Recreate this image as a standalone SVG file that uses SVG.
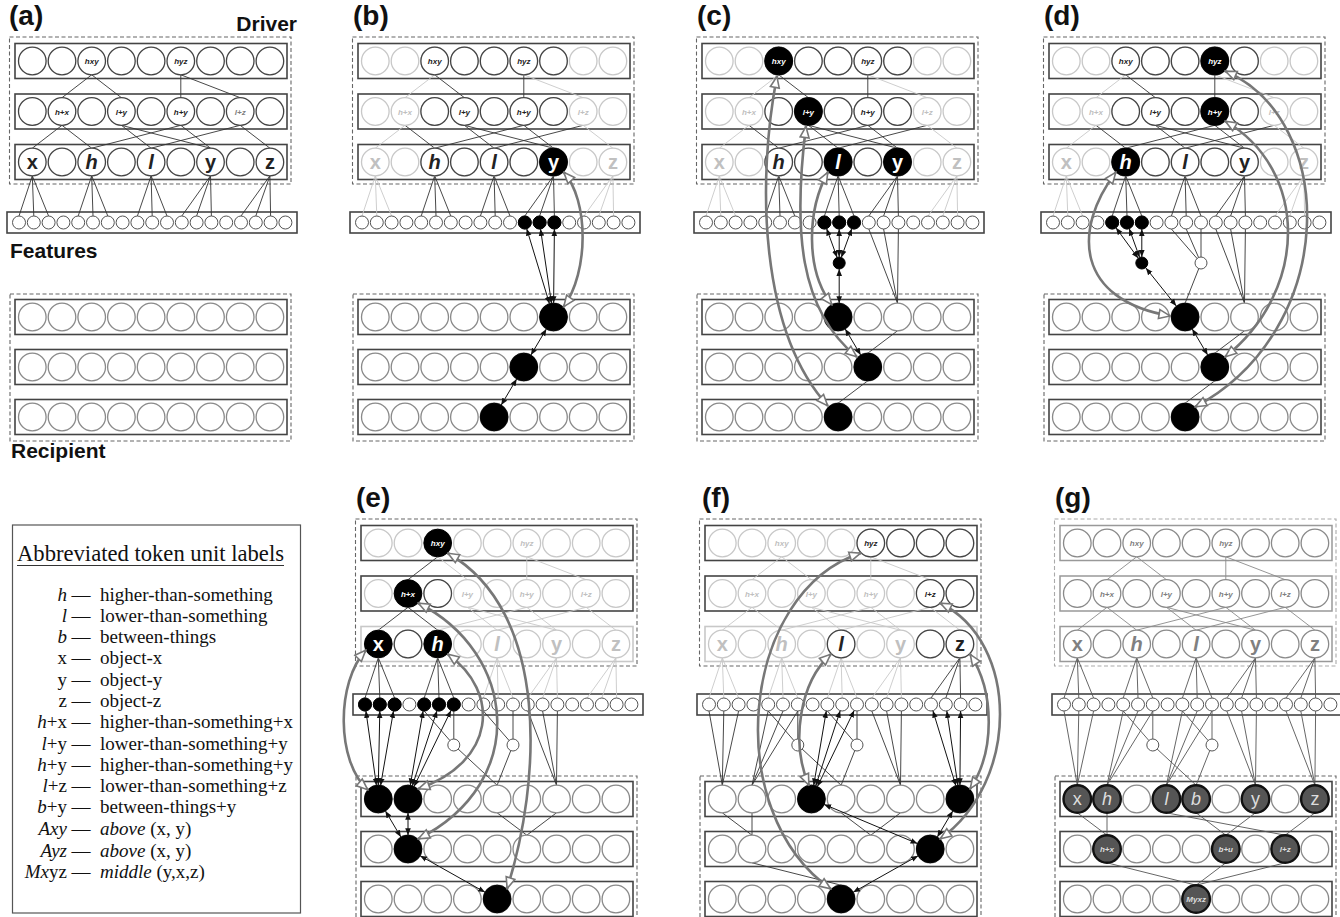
<svg xmlns="http://www.w3.org/2000/svg" width="1340" height="917" viewBox="0 0 1340 917">
<style>
svg{font-family:"Liberation Sans",Arial,sans-serif}
.pl{font-size:28px;font-weight:bold;fill:#111}
.hd{font-size:21px;font-weight:bold;fill:#111}
.ds{fill:none;stroke:#666;stroke-width:1.1;stroke-dasharray:4 2.5}
.dsl{fill:none;stroke:#aaa;stroke-width:1.1;stroke-dasharray:4 2.5}
.rw{fill:none;stroke:#444;stroke-width:1.6}
.rwl{fill:none;stroke:#c8c8c8;stroke-width:1.6}
.rwg{fill:none;stroke:#999;stroke-width:1.5}
.cd{fill:#fff;stroke:#444;stroke-width:1.3}
.cl{fill:#fff;stroke:#c8c8c8;stroke-width:1.3}
.cr{fill:#fff;stroke:#8a8a8a;stroke-width:1.3}
.cb{fill:#000;stroke:#000;stroke-width:1}
.cf{fill:#fff;stroke:#555;stroke-width:1}
.cx{fill:#555;stroke:#111;stroke-width:2.4}
.ld{fill:none;stroke:#333;stroke-width:0.9}
.ll{fill:none;stroke:#c8c8c8;stroke-width:0.9}
.lg{fill:none;stroke:#8a8a8a;stroke-width:0.9}
.lm{fill:none;stroke:#555;stroke-width:0.9}
.ab{fill:none;stroke:#111;stroke-width:1;marker-start:url(#ah);marker-end:url(#ah)}
.ag{fill:none;stroke:#777;stroke-width:2.6;marker-start:url(#gh);marker-end:url(#gh)}
.s{font-size:8px;font-weight:bold;font-style:italic;text-anchor:middle}
.b{font-size:20px;font-weight:bold;text-anchor:middle}
.r{font-size:18px;text-anchor:middle}
.i{font-style:italic}
.k{fill:#222}.g{fill:#c0c0c0}.w{fill:#fff}.m{fill:#808080}.e{fill:#ddd}
.lt{font-family:"Liberation Serif","Times New Roman",serif;font-size:19px;fill:#111}
</style>
<defs>
<marker id="ah" viewBox="0 0 10 10" refX="10" refY="5" markerWidth="7" markerHeight="7" markerUnits="userSpaceOnUse" orient="auto-start-reverse"><path d="M0 1L10 5L0 9z" fill="#111"/></marker>
<marker id="gh" viewBox="0 0 14 12" refX="13" refY="6" markerWidth="14" markerHeight="12" markerUnits="userSpaceOnUse" orient="auto-start-reverse"><path d="M1.5 1.5L12.5 6L1.5 10.5z" fill="#fff" stroke="#777" stroke-width="1.6"/></marker>
<circle id="c" r="13.8"/>
<circle id="fc" r="6.5"/>
<circle id="sc" r="6"/>
<g id="r9"><circle cx="32.3" r="13.8"/><circle cx="62" r="13.8"/><circle cx="91.7" r="13.8"/><circle cx="121.4" r="13.8"/><circle cx="151.1" r="13.8"/><circle cx="180.8" r="13.8"/><circle cx="210.5" r="13.8"/><circle cx="240.2" r="13.8"/><circle cx="269.9" r="13.8"/></g>
<g id="mid5"><circle cx="91.7" r="13.8"/><circle cx="121.4" r="13.8"/><circle cx="151.1" r="13.8"/><circle cx="180.8" r="13.8"/><circle cx="210.5" r="13.8"/></g>
<g id="f19"><circle cx="19" r="6.5"/><circle cx="33.8" r="6.5"/><circle cx="48.6" r="6.5"/><circle cx="63.4" r="6.5"/><circle cx="78.2" r="6.5"/><circle cx="93" r="6.5"/><circle cx="107.8" r="6.5"/><circle cx="122.6" r="6.5"/><circle cx="137.4" r="6.5"/><circle cx="152.2" r="6.5"/><circle cx="167" r="6.5"/><circle cx="181.8" r="6.5"/><circle cx="196.6" r="6.5"/><circle cx="211.4" r="6.5"/><circle cx="226.2" r="6.5"/><circle cx="241" r="6.5"/><circle cx="255.8" r="6.5"/><circle cx="270.6" r="6.5"/><circle cx="285.4" r="6.5"/></g>
<g id="frTop" fill="none">
<rect x="9.5" y="37" width="281.5" height="147" stroke="#666" stroke-width="1.1" stroke-dasharray="4 2.5"/>
<rect x="15" y="43.5" width="272" height="35" stroke="#444" stroke-width="1.6"/>
<rect x="15" y="94" width="272" height="35" stroke="#444" stroke-width="1.6"/>
</g>
<g id="frBot" fill="none">
<rect x="7" y="212" width="290" height="21" stroke="#444" stroke-width="1.6"/>
<rect x="10" y="294" width="281" height="147" stroke="#666" stroke-width="1.1" stroke-dasharray="4 2.5"/>
<rect x="15" y="299.5" width="272" height="35" stroke="#444" stroke-width="1.6"/>
<rect x="15" y="349.5" width="272" height="35" stroke="#444" stroke-width="1.6"/>
<rect x="15" y="399.5" width="272" height="35" stroke="#444" stroke-width="1.6"/>
</g>
<!-- driver links -->
<path id="L1" d="M91.7 74.8L62 97.7"/>
<path id="L2" d="M91.7 74.8L121.4 97.7"/>
<path id="L3" d="M180.8 74.8V97.7"/>
<path id="L4" d="M180.8 74.8L240.2 97.7"/>
<path id="L5" d="M62 125.3L32.3 148.2"/>
<path id="L6" d="M62 125.3L91.7 148.2"/>
<path id="L7" d="M121.4 125.3L151.1 148.2"/>
<path id="L8" d="M121.4 125.3L210.5 148.2"/>
<path id="L9" d="M180.8 125.3L91.7 148.2"/>
<path id="L10" d="M180.8 125.3L210.5 148.2"/>
<path id="L11" d="M240.2 125.3L151.1 148.2"/>
<path id="L12" d="M240.2 125.3L269.9 148.2"/>
<!-- driver to feature links -->
<path id="Fx" d="M32.3 175.8L19 216M32.3 175.8L33.8 216M32.3 175.8L48.6 216"/>
<path id="Fh" d="M91.7 175.8L78.2 216M91.7 175.8L93 216M91.7 175.8L107.8 216"/>
<path id="Fl" d="M151.1 175.8L137.4 216M151.1 175.8L152.2 216M151.1 175.8L167 216"/>
<path id="Fy" d="M210.5 175.8L181.8 216M210.5 175.8L196.6 216M210.5 175.8L211.4 216"/>
<path id="Fz" d="M269.9 175.8L241 216M269.9 175.8L255.8 216M269.9 175.8L270.6 216"/>
<!-- feature to recipient links -->
<path id="Gx" d="M19 229L32.3 303.2M33.8 229L32.3 303.2M48.6 229L32.3 303.2"/>
<path id="Gh" d="M78.2 229L62 303.2M93 229L62 303.2M107.8 229L62 303.2"/>
<path id="Gl" d="M137.4 229L121.4 303.2M152.2 229L121.4 303.2M167 229L121.4 303.2"/>
<path id="Gy" d="M181.8 229L210.5 303.2M196.6 229L210.5 303.2M211.4 229L210.5 303.2"/>
<path id="Gz" d="M241 229L269.9 303.2M255.8 229L269.9 303.2M270.6 229L269.9 303.2"/>
<path id="S1a" d="M78.2 229L107.8 263M107.8 229V263"/>
<path id="S2a" d="M137.4 229L167 263M167 229V263"/>
<path id="S2b" d="M152.2 229L167 263"/>
<path id="Sr" d="M107.8 263L151.1 303.2M167 263L151.1 303.2"/>
<path id="S2r" d="M167 263L151.1 303.2"/>
<!-- recipient links -->
<path id="P01" d="M32.3 330.8L62 353.2"/>
<path id="P11" d="M62 330.8V353.2"/>
<path id="P45" d="M151.1 330.8L180.8 353.2"/>
<path id="P65" d="M210.5 330.8L180.8 353.2"/>
<path id="P37" d="M121.4 330.8L240.2 353.2"/>
<path id="P87" d="M269.9 330.8L240.2 353.2"/>
<path id="Q14" d="M62 380.8L151.1 403.2"/>
<path id="Q54" d="M180.8 380.8L151.1 403.2"/>
<path id="Q74" d="M240.2 380.8L151.1 403.2"/>
</defs>
<rect width="1340" height="917" fill="#fff"/>

<!-- (a) -->
<g id="panel-a">
<text class="pl" x="9" y="25">(a)</text>
<text class="hd" x="297" y="31" text-anchor="end">Driver</text>
<text class="hd" x="10" y="258">Features</text>
<text class="hd" x="11" y="458">Recipient</text>
<use href="#frTop"/><rect class="rw" x="15" y="144.5" width="272" height="35"/><use href="#frBot"/>
<g id="a-links" class="ld"><use href="#L1"/><use href="#L2"/><use href="#L3"/><use href="#L4"/><use href="#L5"/><use href="#L6"/><use href="#L7"/><use href="#L8"/><use href="#L9"/><use href="#L10"/><use href="#L11"/><use href="#L12"/><use href="#Fx"/><use href="#Fh"/><use href="#Fl"/><use href="#Fy"/><use href="#Fz"/></g>
<g id="a-nodes">
<use href="#r9" y="61" class="cd"/><use href="#r9" y="111.5" class="cd"/><use href="#r9" y="162" class="cd"/>
<use href="#f19" y="222.5" class="cf"/>
<use href="#r9" y="317" class="cr"/><use href="#r9" y="367" class="cr"/><use href="#r9" y="417" class="cr"/>
<text class="s k" x="91.7" y="64">hxy</text><text class="s k" x="180.8" y="64">hyz</text>
<text class="s k" x="62" y="114.5">h+x</text><text class="s k" x="121.4" y="114.5">l+y</text><text class="s k" x="180.8" y="114.5">h+y</text><text class="s m" x="240.2" y="114.5">l+z</text>
<text class="b k" x="32.3" y="169">x</text><text class="b i k" x="91.7" y="169">h</text><text class="b i k" x="151.1" y="169">l</text><text class="b k" x="210.5" y="169">y</text><text class="b k" x="269.9" y="169">z</text>
</g>
</g>

<!-- (b) -->
<g id="panel-b" transform="translate(343,0)">
<text class="pl" x="10" y="25">(b)</text>
<use href="#frTop"/><rect class="rw" x="15" y="144.5" width="272" height="35"/><use href="#frBot"/>
<g id="b-links">
<g class="ll"><use href="#L1"/><use href="#L4"/><use href="#L5"/><use href="#L12"/><use href="#Fx"/><use href="#Fz"/></g>
<g class="ld"><use href="#L2"/><use href="#L3"/><use href="#L6"/><use href="#L7"/><use href="#L8"/><use href="#L9"/><use href="#L10"/><use href="#L11"/><use href="#Fh"/><use href="#Fl"/><use href="#Fy"/></g>
</g>
<g id="b-nodes">
<use href="#r9" y="61" class="cl"/><use href="#mid5" y="61" class="cd"/>
<use href="#r9" y="111.5" class="cl"/><use href="#mid5" y="111.5" class="cd"/>
<use href="#r9" y="162" class="cl"/><use href="#mid5" y="162" class="cd"/><use href="#c" x="210.5" y="162" class="cb"/>
<use href="#f19" y="222.5" class="cf"/><use href="#fc" x="181.8" y="222.5" class="cb"/><use href="#fc" x="196.6" y="222.5" class="cb"/><use href="#fc" x="211.4" y="222.5" class="cb"/>
<use href="#r9" y="317" class="cr"/><use href="#r9" y="367" class="cr"/><use href="#r9" y="417" class="cr"/>
<use href="#c" x="210.5" y="317" class="cb"/><use href="#c" x="180.8" y="367" class="cb"/><use href="#c" x="151.1" y="417" class="cb"/>
<text class="s k" x="91.7" y="64">hxy</text><text class="s k" x="180.8" y="64">hyz</text>
<text class="s g" x="62" y="114.5">h+x</text><text class="s k" x="121.4" y="114.5">l+y</text><text class="s k" x="180.8" y="114.5">h+y</text><text class="s g" x="240.2" y="114.5">l+z</text>
<text class="b g" x="32.3" y="169">x</text><text class="b i k" x="91.7" y="169">h</text><text class="b i k" x="151.1" y="169">l</text><text class="b w" x="210.5" y="169">y</text><text class="b g" x="269.9" y="169">z</text>
</g>
<g id="b-arrows">
<path class="ab" d="M183.7 228.7L206.5 303.8"/>
<path class="ab" d="M197.5 228.9L208.5 303.4"/>
<path class="ab" d="M211.4 229L210.6 303.2"/>
<path class="ab" d="M203.4 328.9L187.9 355.1"/>
<path class="ab" d="M173.7 378.9L158.2 405.1"/>
<path class="ag" d="M220.5 172C246 200 246 272 220.5 307"/>
</g>
</g>

<!-- (c) -->
<g id="panel-c" transform="translate(687,0)">
<text class="pl" x="10" y="25">(c)</text>
<use href="#frTop"/><rect class="rw" x="15" y="144.5" width="272" height="35"/><use href="#frBot"/>
<g id="c-links">
<g class="ll"><use href="#L1"/><use href="#L4"/><use href="#L5"/><use href="#L12"/><use href="#Fx"/><use href="#Fz"/></g>
<g class="ld"><use href="#L2"/><use href="#L3"/><use href="#L6"/><use href="#L7"/><use href="#L8"/><use href="#L9"/><use href="#L10"/><use href="#L11"/><use href="#Fh"/><use href="#Fl"/><use href="#Fy"/><use href="#Gy"/><use href="#P65"/><use href="#Q54"/></g>
</g>
<g id="c-nodes">
<use href="#r9" y="61" class="cl"/><use href="#mid5" y="61" class="cd"/><use href="#c" x="91.7" y="61" class="cb"/>
<use href="#r9" y="111.5" class="cl"/><use href="#mid5" y="111.5" class="cd"/><use href="#c" x="121.4" y="111.5" class="cb"/>
<use href="#r9" y="162" class="cl"/><use href="#mid5" y="162" class="cd"/><use href="#c" x="151.1" y="162" class="cb"/><use href="#c" x="210.5" y="162" class="cb"/>
<use href="#f19" y="222.5" class="cf"/><use href="#fc" x="137.4" y="222.5" class="cb"/><use href="#fc" x="152.2" y="222.5" class="cb"/><use href="#fc" x="167" y="222.5" class="cb"/>
<use href="#sc" x="152.2" y="263" class="cb"/>
<use href="#r9" y="317" class="cr"/><use href="#r9" y="367" class="cr"/><use href="#r9" y="417" class="cr"/>
<use href="#c" x="151.1" y="317" class="cb"/><use href="#c" x="180.8" y="367" class="cb"/><use href="#c" x="151.1" y="417" class="cb"/>
<text class="s w" x="91.7" y="64">hxy</text><text class="s k" x="180.8" y="64">hyz</text>
<text class="s g" x="62" y="114.5">h+x</text><text class="s w" x="121.4" y="114.5">l+y</text><text class="s k" x="180.8" y="114.5">h+y</text><text class="s g" x="240.2" y="114.5">l+z</text>
<text class="b g" x="32.3" y="169">x</text><text class="b i k" x="91.7" y="169">h</text><text class="b i w" x="151.1" y="169">l</text><text class="b w" x="210.5" y="169">y</text><text class="b g" x="269.9" y="169">z</text>
</g>
<g id="c-arrows">
<path class="ab" d="M139.6 228.6L150.1 257.4"/>
<path class="ab" d="M152.2 229V257"/>
<path class="ab" d="M164.8 228.6L154.3 257.4"/>
<path class="ab" d="M152.2 269V303.2"/>
<path class="ab" d="M158.2 328.9L173.7 355.1"/>
<path class="ag" d="M90 76C70 180 72 330 141 406"/>
<path class="ag" d="M119 126C106 230 112 310 170 357"/>
<path class="ag" d="M141 172C120 210 118 270 145 305"/>
</g>
</g>

<!-- (d) -->
<g id="panel-d" transform="translate(1034,0)">
<text class="pl" x="10" y="25">(d)</text>
<use href="#frTop"/><rect class="rw" x="15" y="144.5" width="272" height="35"/><use href="#frBot"/>
<g id="d-links">
<g class="ll"><use href="#L1"/><use href="#L4"/><use href="#L5"/><use href="#L12"/><use href="#Fx"/><use href="#Fz"/></g>
<g class="ld"><use href="#L2"/><use href="#L3"/><use href="#L6"/><use href="#L7"/><use href="#L8"/><use href="#L9"/><use href="#L10"/><use href="#L11"/><use href="#Fh"/><use href="#Fl"/><use href="#Fy"/><use href="#S2a"/><use href="#S2b"/><use href="#S2r"/><use href="#Gy"/><use href="#P65"/><use href="#Q54"/></g>
</g>
<g id="d-nodes">
<use href="#r9" y="61" class="cl"/><use href="#mid5" y="61" class="cd"/><use href="#c" x="180.8" y="61" class="cb"/>
<use href="#r9" y="111.5" class="cl"/><use href="#mid5" y="111.5" class="cd"/><use href="#c" x="180.8" y="111.5" class="cb"/>
<use href="#r9" y="162" class="cl"/><use href="#mid5" y="162" class="cd"/><use href="#c" x="91.7" y="162" class="cb"/>
<use href="#f19" y="222.5" class="cf"/><use href="#fc" x="78.2" y="222.5" class="cb"/><use href="#fc" x="93" y="222.5" class="cb"/><use href="#fc" x="107.8" y="222.5" class="cb"/>
<use href="#sc" x="107.8" y="263" class="cb"/><use href="#sc" x="167" y="263" class="cf"/>
<use href="#r9" y="317" class="cr"/><use href="#r9" y="367" class="cr"/><use href="#r9" y="417" class="cr"/>
<use href="#c" x="151.1" y="317" class="cb"/><use href="#c" x="180.8" y="367" class="cb"/><use href="#c" x="151.1" y="417" class="cb"/>
<text class="s k" x="91.7" y="64">hxy</text><text class="s w" x="180.8" y="64">hyz</text>
<text class="s g" x="62" y="114.5">h+x</text><text class="s k" x="121.4" y="114.5">l+y</text><text class="s w" x="180.8" y="114.5">h+y</text><text class="s g" x="240.2" y="114.5">l+z</text>
<text class="b g" x="32.3" y="169">x</text><text class="b i w" x="91.7" y="169">h</text><text class="b i k" x="151.1" y="169">l</text><text class="b k" x="210.5" y="169">y</text><text class="b g" x="269.9" y="169">z</text>
</g>
<g id="d-arrows">
<path class="ab" d="M82 227.8L104.2 258.2"/>
<path class="ab" d="M95.2 228.6L105.6 257.4"/>
<path class="ab" d="M107.8 229V257"/>
<path class="ab" d="M111.9 268L142.3 306"/>
<path class="ab" d="M158.2 328.9L173.7 355.1"/>
<path class="ag" d="M82 172C38 230 42 300 136.5 316"/>
<path class="ag" d="M191 71C305 120 305 330 161 407"/>
<path class="ag" d="M191 121C275 170 275 290 191 357"/>
</g>
</g>

<!-- (e) -->
<g id="panel-e" transform="translate(346,482)">
<text class="pl" x="10" y="25">(e)</text>
<use href="#frTop"/><rect class="rwl" x="15" y="144.5" width="272" height="35"/><use href="#frBot"/>
<g id="e-links">
<g class="ll"><use href="#L2"/><use href="#L3"/><use href="#L4"/><use href="#L7"/><use href="#L8"/><use href="#L9"/><use href="#L10"/><use href="#L11"/><use href="#L12"/><use href="#Fl"/><use href="#Fy"/><use href="#Fz"/></g>
<g class="ld"><use href="#L1"/><use href="#L5"/><use href="#L6"/><use href="#Fx"/><use href="#Fh"/><use href="#S1a"/><use href="#S2a"/><use href="#Sr"/><use href="#Gy"/><use href="#P45"/><use href="#P65"/></g>
</g>
<g id="e-nodes">
<use href="#r9" y="61" class="cl"/><use href="#c" x="91.7" y="61" class="cb"/>
<use href="#r9" y="111.5" class="cl"/><use href="#c" x="62" y="111.5" class="cb"/><use href="#c" x="91.7" y="111.5" class="cd"/>
<use href="#r9" y="162" class="cl"/><use href="#c" x="32.3" y="162" class="cb"/><use href="#c" x="62" y="162" class="cd"/><use href="#c" x="91.7" y="162" class="cb"/>
<use href="#f19" y="222.5" class="cf"/><use href="#fc" x="19" y="222.5" class="cb"/><use href="#fc" x="33.8" y="222.5" class="cb"/><use href="#fc" x="48.6" y="222.5" class="cb"/><use href="#fc" x="78.2" y="222.5" class="cb"/><use href="#fc" x="93" y="222.5" class="cb"/><use href="#fc" x="107.8" y="222.5" class="cb"/>
<use href="#sc" x="107.8" y="263" class="cf"/><use href="#sc" x="167" y="263" class="cf"/>
<use href="#r9" y="317" class="cr"/><use href="#r9" y="367" class="cr"/><use href="#r9" y="417" class="cr"/>
<use href="#c" x="32.3" y="317" class="cb"/><use href="#c" x="62" y="317" class="cb"/><use href="#c" x="62" y="367" class="cb"/><use href="#c" x="151.1" y="417" class="cb"/>
<text class="s w" x="91.7" y="64">hxy</text><text class="s g" x="180.8" y="64">hyz</text>
<text class="s w" x="62" y="114.5">h+x</text><text class="s g" x="121.4" y="114.5">l+y</text><text class="s g" x="180.8" y="114.5">h+y</text><text class="s g" x="240.2" y="114.5">l+z</text>
<text class="b w" x="32.3" y="169">x</text><text class="b i w" x="91.7" y="169">h</text><text class="b i g" x="151.1" y="169">l</text><text class="b g" x="210.5" y="169">y</text><text class="b g" x="269.9" y="169">z</text>
</g>
<g id="e-arrows">
<path class="ab" d="M19.9 228.9L30.4 303.3"/>
<path class="ab" d="M33.8 229L32.3 303.2"/>
<path class="ab" d="M47.5 228.9L34.6 303.4"/>
<path class="ab" d="M77.1 228.9L64.3 303.4"/>
<path class="ab" d="M91 228.7L66.3 303.9"/>
<path class="ab" d="M105 228.4L68 304.6"/>
<path class="ab" d="M39.4 328.9L54.9 355.1"/>
<path class="ab" d="M62 330.8V353.2"/>
<path class="ab" d="M74 373.7L139.1 410.3"/>
<path class="ag" d="M20 168C-10 200 -10 280 22 308"/>
<path class="ag" d="M72 121C170 170 185 300 72 357"/>
<path class="ag" d="M101.5 172C155 210 150 280 72 307"/>
<path class="ag" d="M101.5 71C205 130 195 300 161 407"/>
</g>
</g>

<!-- (f) -->
<g id="panel-f" transform="translate(690,482)">
<text class="pl" x="12" y="25">(f)</text>
<use href="#frTop"/><rect class="rwl" x="15" y="144.5" width="272" height="35"/><use href="#frBot"/>
<g id="f-links">
<g class="ll"><use href="#L1"/><use href="#L2"/><use href="#L3"/><use href="#L4"/><use href="#L5"/><use href="#L6"/><use href="#L7"/><use href="#L8"/><use href="#L9"/><use href="#L10"/><use href="#L11"/><use href="#L12"/><use href="#Fx"/><use href="#Fh"/><use href="#Fl"/><use href="#Fy"/></g>
<g class="ld"><use href="#Fz"/><use href="#Gx"/><use href="#Gh"/><use href="#Gy"/><use href="#S1a"/><use href="#S2a"/><use href="#Sr"/><use href="#P01"/><use href="#P11"/><use href="#P45"/><use href="#P65"/><use href="#Q14"/></g>
</g>
<g id="f-nodes">
<use href="#r9" y="61" class="cl"/><use href="#c" x="180.8" y="61" class="cd"/><use href="#c" x="210.5" y="61" class="cd"/><use href="#c" x="240.2" y="61" class="cd"/><use href="#c" x="269.9" y="61" class="cd"/>
<use href="#r9" y="111.5" class="cl"/><use href="#c" x="240.2" y="111.5" class="cd"/><use href="#c" x="269.9" y="111.5" class="cd"/>
<use href="#r9" y="162" class="cl"/><use href="#c" x="151.1" y="162" class="cd"/><use href="#c" x="240.2" y="162" class="cd"/><use href="#c" x="269.9" y="162" class="cd"/>
<use href="#f19" y="222.5" class="cf"/>
<use href="#sc" x="107.8" y="263" class="cf"/><use href="#sc" x="167" y="263" class="cf"/>
<use href="#r9" y="317" class="cr"/><use href="#r9" y="367" class="cr"/><use href="#r9" y="417" class="cr"/>
<use href="#c" x="121.4" y="317" class="cb"/><use href="#c" x="269.9" y="317" class="cb"/><use href="#c" x="240.2" y="367" class="cb"/><use href="#c" x="151.1" y="417" class="cb"/>
<text class="s g" x="91.7" y="64">hxy</text><text class="s k" x="180.8" y="64">hyz</text>
<text class="s g" x="62" y="114.5">h+x</text><text class="s g" x="121.4" y="114.5">l+y</text><text class="s g" x="180.8" y="114.5">h+y</text><text class="s k" x="240.2" y="114.5">l+z</text>
<text class="b g" x="32.3" y="169">x</text><text class="b i g" x="91.7" y="169">h</text><text class="b i k" x="151.1" y="169">l</text><text class="b g" x="210.5" y="169">y</text><text class="b k" x="269.9" y="169">z</text>
</g>
<g id="f-arrows">
<path class="ab" d="M136.3 228.9L123.7 303.4"/>
<path class="ab" d="M150.2 228.7L125.7 303.9"/>
<path class="ab" d="M164.2 228.4L127.4 304.6"/>
<path class="ab" d="M242.9 228.7L265.9 303.8"/>
<path class="ab" d="M256.8 228.9L267.9 303.4"/>
<path class="ab" d="M270.6 229L269.9 303.2"/>
<path class="ab" d="M134.1 322.4L227.5 361.6"/>
<path class="ab" d="M262.8 328.9L247.3 355.1"/>
<path class="ab" d="M228.2 373.7L163.1 410.3"/>
<path class="ag" d="M141 172C110 200 100 260 119 303.5"/>
<path class="ag" d="M280 172C305 210 305 270 280 307"/>
<path class="ag" d="M250 121C330 160 330 300 250 357"/>
<path class="ag" d="M171 71C50 110 30 330 141 407"/>
</g>
</g>

<!-- (g) -->
<g id="panel-g" transform="translate(1045,482)">
<text class="pl" x="10" y="25">(g)</text>
<rect class="dsl" x="9.5" y="37" width="281.5" height="147"/>
<rect class="rwg" x="15" y="43.5" width="272" height="35"/>
<rect class="rwg" x="15" y="94" width="272" height="35"/>
<rect class="rwg" x="15" y="144.5" width="272" height="35"/>
<use href="#frBot"/>
<g id="g-links">
<g class="lg"><use href="#L1"/><use href="#L2"/><use href="#L3"/><use href="#L4"/><use href="#L5"/><use href="#L6"/><use href="#L7"/><use href="#L8"/><use href="#L9"/><use href="#L10"/><use href="#L11"/><use href="#L12"/></g>
<g class="lm"><use href="#Fx"/><use href="#Fh"/><use href="#Fl"/><use href="#Fy"/><use href="#Fz"/><use href="#Gx"/><use href="#Gh"/><use href="#Gl"/><use href="#Gy"/><use href="#Gz"/><use href="#S1a"/><use href="#S2a"/><use href="#Sr"/><use href="#P01"/><use href="#P11"/><use href="#P37"/><use href="#P45"/><use href="#P65"/><use href="#P87"/><use href="#Q14"/><use href="#Q54"/><use href="#Q74"/></g>
</g>
<g id="g-nodes">
<use href="#r9" y="61" class="cr"/><use href="#r9" y="111.5" class="cr"/><use href="#r9" y="162" class="cr"/>
<use href="#f19" y="222.5" class="cf"/>
<use href="#sc" x="107.8" y="263" class="cf"/><use href="#sc" x="167" y="263" class="cf"/>
<use href="#r9" y="317" class="cr"/><use href="#r9" y="367" class="cr"/><use href="#r9" y="417" class="cr"/>
<use href="#c" x="32.3" y="317" class="cx"/><use href="#c" x="62" y="317" class="cx"/><use href="#c" x="121.4" y="317" class="cx"/><use href="#c" x="151.1" y="317" class="cx"/><use href="#c" x="210.5" y="317" class="cx"/><use href="#c" x="269.9" y="317" class="cx"/>
<use href="#c" x="62" y="367" class="cx"/><use href="#c" x="180.8" y="367" class="cx"/><use href="#c" x="240.2" y="367" class="cx"/>
<use href="#c" x="151.1" y="417" class="cx"/>
<text class="s m" x="91.7" y="64">hxy</text><text class="s m" x="180.8" y="64">hyz</text>
<text class="s m" x="62" y="114.5">h+x</text><text class="s m" x="121.4" y="114.5">l+y</text><text class="s m" x="180.8" y="114.5">h+y</text><text class="s m" x="240.2" y="114.5">l+z</text>
<text class="b m" x="32.3" y="169">x</text><text class="b i m" x="91.7" y="169">h</text><text class="b i m" x="151.1" y="169">l</text><text class="b m" x="210.5" y="169">y</text><text class="b m" x="269.9" y="169">z</text>
<text class="r e" x="32.3" y="323">x</text><text class="r i e" x="62" y="323">h</text><text class="r i e" x="121.4" y="323">l</text><text class="r i e" x="151.1" y="323">b</text><text class="r e" x="210.5" y="323">y</text><text class="r e" x="269.9" y="323">z</text>
<text class="s e" x="62" y="370">h+x</text><text class="s e" x="180.8" y="370">b+u</text><text class="s e" x="240.2" y="370">l+z</text>
<text class="s e" x="151.1" y="420">Myxz</text>
</g>
</g>

<!-- label key -->
<g id="legend">
<rect x="12.5" y="525" width="288" height="388" fill="none" stroke="#555" stroke-width="1.2"/>
<g class="lt">
<text x="17" y="560.5" style="font-size:22.5px" textLength="267" lengthAdjust="spacingAndGlyphs">Abbreviated token unit labels</text>
<path d="M17 565.5H284" stroke="#333" stroke-width="1"/>
<g text-anchor="end">
<text x="67" y="600.5" font-style="italic">h</text>
<text x="67" y="621.5" font-style="italic">l</text>
<text x="67" y="642.5" font-style="italic">b</text>
<text x="67" y="664">x</text>
<text x="67" y="685.5">y</text>
<text x="67" y="707">z</text>
<text x="67" y="728.3"><tspan font-style="italic">h</tspan>+x</text>
<text x="67" y="749.5"><tspan font-style="italic">l</tspan>+y</text>
<text x="67" y="770.5"><tspan font-style="italic">h</tspan>+y</text>
<text x="67" y="792"><tspan font-style="italic">l</tspan>+z</text>
<text x="67" y="813.3"><tspan font-style="italic">b</tspan>+y</text>
<text x="67" y="835" font-style="italic">Axy</text>
<text x="67" y="856.5" font-style="italic">Ayz</text>
<text x="67" y="878"><tspan font-style="italic">Mx</tspan>yz</text>
</g>
<g>
<text x="71.5" y="600.5">—</text><text x="71.5" y="621.5">—</text><text x="71.5" y="642.5">—</text><text x="71.5" y="664">—</text><text x="71.5" y="685.5">—</text><text x="71.5" y="707">—</text><text x="71.5" y="728.3">—</text><text x="71.5" y="749.5">—</text><text x="71.5" y="770.5">—</text><text x="71.5" y="792">—</text><text x="71.5" y="813.3">—</text><text x="71.5" y="835">—</text><text x="71.5" y="856.5">—</text><text x="71.5" y="878">—</text>
</g>
<g>
<text x="100" y="600.5">higher-than-something</text>
<text x="100" y="621.5">lower-than-something</text>
<text x="100" y="642.5">between-things</text>
<text x="100" y="664">object-x</text>
<text x="100" y="685.5">object-y</text>
<text x="100" y="707">object-z</text>
<text x="100" y="728.3">higher-than-something+x</text>
<text x="100" y="749.5">lower-than-something+y</text>
<text x="100" y="770.5">higher-than-something+y</text>
<text x="100" y="792">lower-than-something+z</text>
<text x="100" y="813.3">between-things+y</text>
<text x="100" y="835"><tspan font-style="italic">above</tspan> (x, y)</text>
<text x="100" y="856.5"><tspan font-style="italic">above</tspan> (x, y)</text>
<text x="100" y="878"><tspan font-style="italic">middle</tspan> (y,x,z)</text>
</g>
</g>
</g>
</svg>
